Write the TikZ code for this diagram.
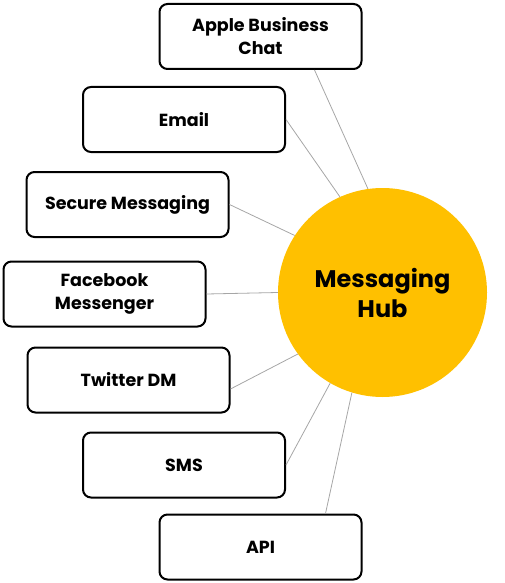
\documentclass[tikz,border=0pt]{standalone}
\usepackage{fontspec}
\setmainfont{Poppins}
\definecolor{hubgold}{HTML}{FFC000}
\definecolor{linkgray}{HTML}{A6A6A6}
\begin{document}
\begin{tikzpicture}[x=1pt,y=-1pt,
    channel/.style={draw,line width=2pt,rounded corners=8pt,minimum width=202pt,
      minimum height=65pt,inner sep=0pt,align=center,
      font=\fontsize{17.5}{23}\selectfont\bfseries},
    hubnode/.style={circle,fill=hubgold,minimum size=209pt,inner sep=0pt,align=center,
      font=\fontsize{24}{30}\selectfont\bfseries},
    link/.style={draw=linkgray,line width=0.8pt}]
  \useasboundingbox (0,0) rectangle (504,583);
  \draw
    (382.5,292.5) node[hubnode] (hub){Messaging\\Hub}
    (260.5,36.5) node[channel] (apple){Apple Business\\Chat}
    (184,119.5) node[channel] (email){Email}
    (127.5,204.5) node[channel] (secure){Secure Messaging}
    (104.5,294) node[channel] (facebook){Facebook\\Messenger}
    (128.5,380) node[channel] (twitter){Twitter DM}
    (184,465) node[channel] (sms){SMS}
    (260.5,547) node[channel] (api){API};
  \begin{scope}[link]
    \draw ([xshift=54pt]apple.south) to (hub.98.4);
    \draw (email.east) to (hub.114.5);
    \draw (secure.east) to (hub.147);
    \draw (facebook.east) to (hub.180);
    \draw ([yshift=-9pt]twitter.east) to (hub.216);
    \draw (sms.east) to (hub.240);
    \draw ([xshift=65pt]api.north) to (hub.253.6);
  \end{scope}
\end{tikzpicture}
\end{document}
